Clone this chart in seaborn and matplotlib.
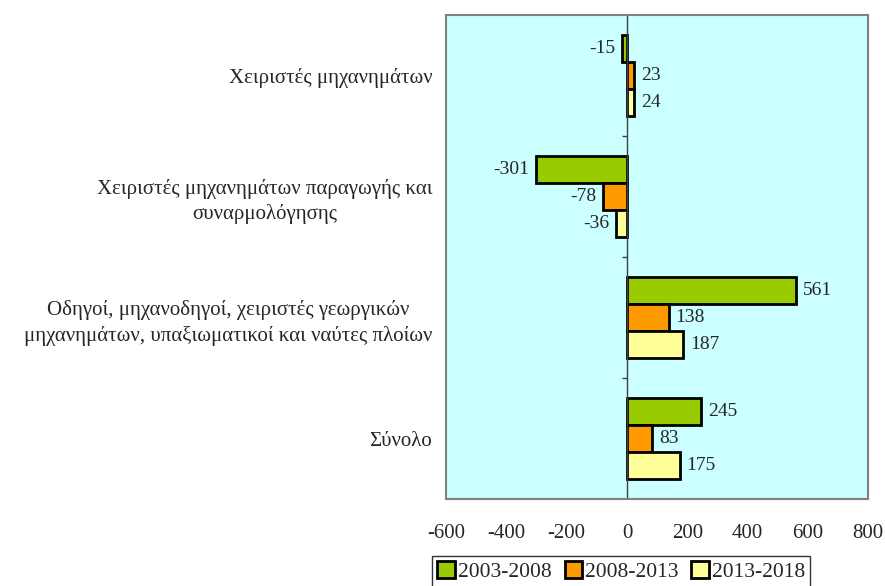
import numpy as np
import pandas as pd
import seaborn as sns
from matplotlib import pyplot as plt

categories = ['Χειριστές μηχανημάτων',
              'Χειριστές μηχανημάτων παραγωγής και\nσυναρμολόγησης',
              'Οδηγοί, μηχανοδηγοί, χειριστές γεωργικών\nμηχανημάτων, υπαξιωματικοί και ναύτες πλοίων',
              'Σύνολο']
periods = ['2003-2008', '2008-2013', '2013-2018']
v_2003_2008 = [-15, -301, 561, 245]
v_2008_2013 = [23, -78, 138, 83]
v_2013_2018 = [24, -36, 187, 175]
colors = ['#99CC00', '#FF9900', '#FFFF99']

df = pd.DataFrame({
    'category': categories * 3,
    'period': [p for p in periods for _ in categories],
    'value': v_2003_2008 + v_2008_2013 + v_2013_2018,
})

sns.set_style('white')
plt.rcParams['font.family'] = ['Liberation Serif', 'DejaVu Serif']
plt.rcParams['axes.unicode_minus'] = False

fig = plt.figure(figsize=(8.85, 5.86), dpi=100)
ax = fig.add_axes([0.504, 0.148, 0.477, 0.826])
ax.set_facecolor('#CCFFFF')

sns.barplot(data=df, y='category', x='value', hue='period', orient='h',
            palette=colors, saturation=1, width=0.67, edgecolor='black',
            linewidth=2, ax=ax, legend=True)

for cont in ax.containers:
    ax.bar_label(cont, padding=5, fontsize=14)

ax.set_xlim(-600, 800)
ax.set_ylim(3.5, -0.5)
ax.set_xticks(np.arange(-600, 801, 200))
ax.tick_params(axis='x', length=0, pad=18, labelsize=15)
ax.tick_params(axis='y', length=0, pad=10, labelsize=15)
for lbl in ax.get_yticklabels():
    lbl.set_multialignment('center')
    lbl.set_linespacing(1.35)
ax.set_xlabel('')
ax.set_ylabel('')

# zero line with category separators
ax.axvline(0, color='#404040', linewidth=1, zorder=1)
ax.hlines([0.5, 1.5, 2.5], -18, 0, color='#404040', linewidth=1)

for sp in ax.spines.values():
    sp.set_color('#808080')
    sp.set_linewidth(1.5)

handles, labels = ax.get_legend_handles_labels()
ax.get_legend().remove()
leg = fig.legend(handles, labels, loc='upper center', bbox_to_anchor=(0.702, 0.07),
                 ncol=3, fontsize=15.5, frameon=True, fancybox=False, edgecolor='black',
                 handlelength=0.8, handleheight=0.8, handletextpad=0.15,
                 columnspacing=0.6, borderpad=0.25)
leg.get_frame().set_linewidth(1)

fig.savefig('out.png', dpi=100)
